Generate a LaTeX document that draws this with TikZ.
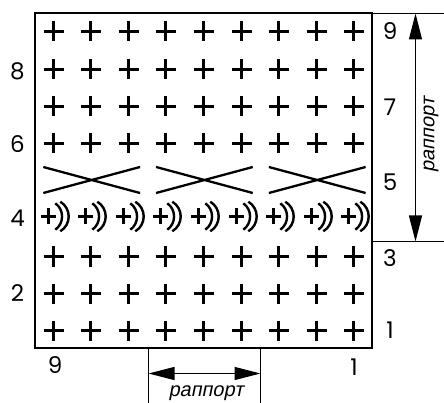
\documentclass[tikz,border=0pt]{standalone}
\usepackage{fontspec}
\setmainfont{Poppins}
\newfontfamily\cyr[FakeSlant=0.2]{Liberation Sans}
\usetikzlibrary{arrows.meta}
\tikzset{
  crossline/.style={line width=3pt},
  arcline/.style={line width=2.4pt},
  xline/.style={line width=2.3pt},
  thin/.style={line width=1.3pt},
  frame/.style={line width=2pt},
  dimarrow/.style={thin,{Triangle[length=26pt,width=13pt]}-{Triangle[length=26pt,width=13pt]}},
  num/.style={font=\fontsize{23}{23}\selectfont, inner sep=0pt},
  rap/.style={font=\cyr\fontsize{20}{20}\selectfont, inner sep=0pt},
  pluss/.pic={\draw[crossline] (-10,0)--(10,0) (0,-10)--(0,10);},
  plusarc/.pic={
    \draw[crossline] (-7.5,0)--(7.5,0) (0,-8)--(0,8);
    \draw[arcline] (6.8,-13.2) .. controls (15.8,-7) and (15.8,7) .. (6.8,13.2);
    \draw[arcline] (11.8,-14.8) .. controls (23,-8) and (23,8) .. (11.8,14.8);
  }
}
\begin{document}
\begin{tikzpicture}[x=1pt,y=-1pt]
\useasboundingbox (0,0) rectangle (444,403);
% frame
\coordinate (TL) at (35,13);
\coordinate (BR) at (372,348);
\draw[frame] (TL) rectangle (BR);
% crosses
\foreach \j [evaluate=\j as \yy using {round(31.2+37.4*\j)+0.5}] in {0,1,2,3,6,7,8}{
  \foreach \i [evaluate=\i as \xx using {round(52.5+37.6*\i)+0.5}] in {0,...,8}{
    \pic at (\xx,\yy) {pluss};
  }
}
% +)) row
\foreach \i [evaluate=\i as \xx using {round(47.5+37.6*\i)+0.5}] in {0,...,8}{
  \pic at (\xx,216.5) {plusarc};
}
% X shapes
\foreach \k in {0,1,2}{
  \draw[xline] ({43.3+112.8*\k},193) -- ({140+112.8*\k},167)
               ({43.3+112.8*\k},167) -- ({140+112.8*\k},193);
}
% row numbers left
\node[num] (l8) at (17.5,71) {8};
\node[num] (l6) at (17.5,144) {6};
\node[num] (l4) at (17.5,218) {4};
\node[num] (l2) at (17.5,293) {2};
% row numbers right
\node[num] (r9) at (390,31) {9};
\node[num] (r7) at (390,107) {7};
\node[num] (r5) at (390,182) {5};
\node[num] (r3) at (390,258) {3};
\node[num] (r1) at (390,330) {1};
% column numbers
\node[num] (c9) at (55,365) {9};
\node[num] (c1) at (354,367) {1};
% vertical rapport
\coordinate (vt0) at (372,13.5);
\coordinate (vt1) at (444,13.5);
\coordinate (vb0) at (372,241.5);
\coordinate (vb1) at (444,241.5);
\draw[thin] (vt0) -- (vt1);
\draw[thin] (vb0) -- (vb1);
\coordinate (va) at (415.5,13.5);
\coordinate (vb) at (415.5,241.5);
\draw[dimarrow] (vb) -- (va);
\node[rap, rotate=90] (vrap) at (431,135) {раппорт};
% horizontal rapport
\coordinate (hl0) at (148.5,348);
\coordinate (hl1) at (148.5,403);
\coordinate (hr0) at (260.5,348);
\coordinate (hr1) at (260.5,403);
\draw[thin] (hl0) -- (hl1);
\draw[thin] (hr0) -- (hr1);
\coordinate (ha) at (148.5,373.5);
\coordinate (hb) at (260.5,373.5);
\draw[dimarrow] (ha) -- (hb);
\node[rap] (hrap) at (206,393) {раппорт};
\end{tikzpicture}
\end{document}
